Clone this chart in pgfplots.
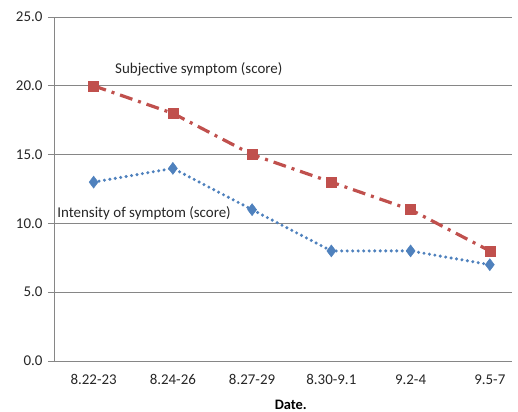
\documentclass[border=0pt]{standalone}
\usepackage{pgfplots}
\pgfplotsset{compat=1.18}
\usetikzlibrary{calc}
\usepackage{fontspec}
\setmainfont{Carlito}
\definecolor{exred}{RGB}{192,80,77}
\definecolor{exblue}{RGB}{79,129,189}
\definecolor{gridgray}{RGB}{134,134,134}
\begin{document}
\begin{tikzpicture}[x=1bp,y=1bp]
\begin{axis}[
  name=ax,
  scale only axis,
  width=458bp, height=344bp,
  xmin=-0.5, xmax=5.28,
  ymin=0, ymax=25,
  ytick={0,5,...,25},
  /pgf/number format/fixed,
  /pgf/number format/fixed zerofill,
  /pgf/number format/precision=1,
  /pgf/number format/assume math mode=true,
  xtick={0,1,2,3,4,5},
  xticklabels={8.22-23,8.24-26,8.27-29,8.30-9.1,9.2-4,9.5-7},
  extra x ticks={0.5,1.5,2.5,3.5,4.5},
  extra x tick labels={},
  extra x tick style={major tick length=6bp, tick style={gridgray, line width=0.8bp}, grid=none},
  axis x line*=bottom,
  axis y line*=left,
  axis line style={gridgray, line width=0.8bp, -},
  ymajorgrids,
  grid style={gridgray, line width=0.8bp},
  tick align=outside,
  major tick length=6bp,
  tick style={gridgray, line width=0.8bp},
  xtick style={draw=none},
  font=\fontsize{15}{18}\selectfont,
  ticklabel style={font=\fontsize{15}{18}\selectfont, text=black!85},
  xticklabel style={yshift=-4bp},
  yticklabel style={xshift=-2bp},
  xlabel={\textbf{Date.}},
  xlabel style={font=\fontsize{14.5}{17}\selectfont, at={(ticklabel cs:0.517)}, anchor=north, yshift=4bp},
  clip=false,
]
\addplot[exred, line width=3.2bp, dash pattern=on 13bp off 6bp on 3bp off 6bp,
  mark=square*, mark size=5bp, mark options={solid, fill=exred, draw=exred, line width=0.5bp}]
  coordinates {(0,20) (1,18) (2,15) (3,13) (4,11) (5,8)};
\addplot[exblue, line width=3.4bp, dash pattern=on 0bp off 5.5bp, line cap=round,
  mark=diamond*, mark size=6bp, mark options={solid, fill=exblue, draw=exblue, line width=0.5bp, line cap=butt}]
  coordinates {(0,13) (1,14) (2,11) (3,8) (4,8) (5,7)};
\node[anchor=west, font=\fontsize{15}{18}\selectfont, text=black!85, inner sep=0pt] at (axis cs:0.27,21.2) {Subjective symptom (score)};
\node[anchor=west, font=\fontsize{15}{18}\selectfont, text=black!85, inner sep=0pt] at (axis cs:-0.46,10.75) {Intensity of symptom (score)};
\end{axis}
\pgfresetboundingbox
\path[use as bounding box] ($(ax.south west)+(-54bp,-51bp)$) rectangle ($(ax.north east)+(6bp,17bp)$);
\end{tikzpicture}
\end{document}
